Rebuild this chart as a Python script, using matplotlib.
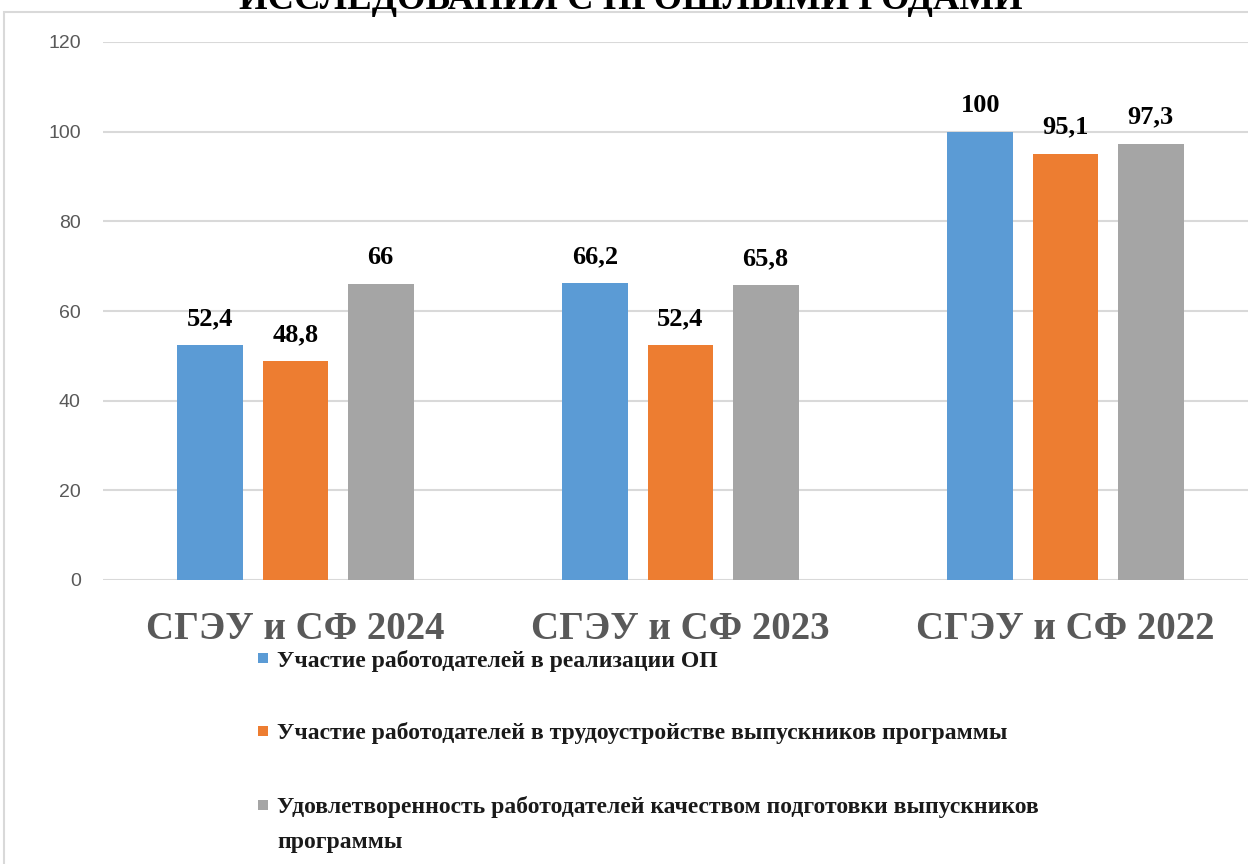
import matplotlib
matplotlib.use("Agg")
import matplotlib.pyplot as plt
from matplotlib.patches import Rectangle
import numpy as np

categories = ["СГЭУ и СФ 2024", "СГЭУ и СФ 2023", "СГЭУ и СФ 2022"]
series_names = [
    "Участие работодателей в реализации ОП",
    "Участие работодателей в трудоустройстве выпускников программы",
    "Удовлетворенность работодателей качеством подготовки выпускников\nпрограммы",
]
participation = [52.4, 66.2, 100]
employment = [48.8, 52.4, 95.1]
satisfaction = [66, 65.8, 97.3]
yticks = [0, 20, 40, 60, 80, 100, 120]
title = "ИССЛЕДОВАНИЯ С ПРОШЛЫМИ ГОДАМИ"

colors = ["#5B9BD5", "#ED7D31", "#A5A5A5"]
W, H = 1248, 864
serif = ["Liberation Serif", "DejaVu Serif"]

fig = plt.figure(figsize=(W / 100, H / 100), dpi=100)
fig.patch.set_facecolor("white")

# chart border
fig.patches.append(Rectangle((4 / W, -0.1), 1.2, 1 - 12 / H + 0.1, transform=fig.transFigure,
                             facecolor="none", edgecolor="#D9D9D9", lw=1.5, zorder=0))

ax = fig.add_axes([103 / W, 1 - 580 / H, 1155 / W, 538 / H])
ax.set_xlim(-0.5, 2.5)
ax.set_ylim(0, 120)
ax.set_yticks(yticks)
ax.set_yticklabels([str(v) for v in yticks], fontsize=14, color="#595959",
                   family=["Liberation Sans", "DejaVu Sans"])
ax.yaxis.grid(True, color="#D9D9D9", lw=1.5)
ax.set_axisbelow(True)
for s in ax.spines.values():
    s.set_visible(False)
ax.tick_params(axis="y", length=0, pad=16)
ax.tick_params(axis="x", length=0, pad=22)
ax.set_xticks(range(len(categories)))
ax.set_xticklabels(categories, fontsize=28, fontweight="bold", color="#595959", family=serif)

x = np.arange(len(categories))
bw = 0.1714
step = 0.2208
for i, (vals, c) in enumerate(zip([participation, employment, satisfaction], colors)):
    pos = x + (i - 1) * step
    bars = ax.bar(pos, vals, width=bw, color=c, zorder=2)
    for b, v in zip(bars, vals):
        lab = f"{v:g}".replace(".", ",")
        ax.annotate(lab, (b.get_x() + b.get_width() / 2, v), xytext=(0, 14.5),
                    textcoords="offset points", ha="center", va="baseline",
                    fontsize=19, fontweight="bold", family=serif, color="black")

# title (partially cut off at top, as in the source image)
fig.text(631 / W, 1 - 9 / H, title, ha="center", va="baseline", fontsize=26.5,
         fontweight="bold", family=serif, color="black")

# legend
leg_y = [658, 731, 805]
for name, c, yy in zip(series_names, colors, leg_y):
    fig.patches.append(Rectangle((258 / W, 1 - (yy + 5) / H), 10 / W, 10 / H,
                                 transform=fig.transFigure, facecolor=c, edgecolor="none"))
    lines = name.split("\n")
    for k, ln in enumerate(lines):
        fig.text(277 / W, 1 - (yy + 35 * k) / H, ln, ha="left", va="center_baseline",
                 fontsize=17, fontweight="bold", family=serif, color="#1a1a1a")

fig.savefig("out.png", dpi=100)
